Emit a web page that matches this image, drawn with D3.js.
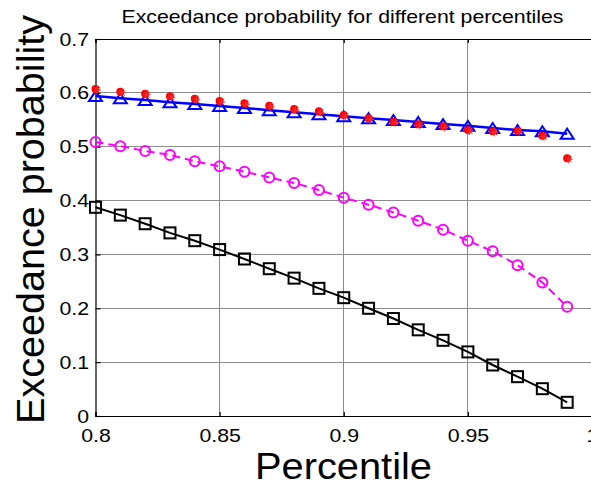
<!DOCTYPE html>
<html>
<head>
<meta charset="utf-8">
<script src="https://cdn.jsdelivr.net/npm/d3@7"></script>
<style>
html,body{margin:0;padding:0;background:#fff;overflow:hidden;}
svg{display:block;}
text{font-family:"Liberation Sans",Arial,Helvetica,sans-serif;fill:#000;}
</style>
</head>
<body>
<svg id="chart" width="591" height="486"></svg>
<script>
// ---- data ----
const percentiles = [0.80,0.81,0.82,0.83,0.84,0.85,0.86,0.87,0.88,0.89,0.90,0.91,0.92,0.93,0.94,0.95,0.96,0.97,0.98,0.99];
const seriesRed = [0.607,0.602,0.5984,0.5936,0.589,0.5848,0.5805,0.576,0.570,0.5657,0.5589,0.5527,0.5465,0.5416,0.5378,0.531,0.5286,0.5297,0.5204,0.4784];
const seriesBlue = [0.5940,0.5899,0.5867,0.5824,0.5793,0.5756,0.572,0.5676,0.5639,0.5603,0.5565,0.5530,0.5496,0.546,0.542,0.539,0.5347,0.531,0.5286,0.5242];
const seriesMagenta = [0.5087,0.501,0.492,0.4846,0.473,0.4636,0.4536,0.443,0.4326,0.4196,0.4054,0.3924,0.378,0.3627,0.346,0.3255,0.306,0.280,0.248,0.203];
const seriesBlack = [0.3875,0.373,0.357,0.340,0.3255,0.309,0.2915,0.2735,0.256,0.237,0.2197,0.200,0.181,0.160,0.1405,0.119,0.0947,0.073,0.0507,0.0254];
const xTicks = [0.8,0.85,0.9,0.95,1];
const yTicks = [0,0.1,0.2,0.3,0.4,0.5,0.6,0.7];
const titleText = "Exceedance probability for different percentiles";
const xLabelText = "Percentile";
const yLabelText = "Exceedance probability";

// ---- layout ----
const svg = d3.select("#chart");
const L = 95.5, R = 592, T = 39, B = 416;
const x = d3.scaleLinear().domain([0.8,1]).range([L,R]);
const y = d3.scaleLinear().domain([0,0.7]).range([B,T]);
const STRETCH = 1.12;

// grid
const grid = svg.append("g").attr("stroke","#8c8c8c").attr("stroke-width",1).attr("shape-rendering","crispEdges");
grid.selectAll(".gx").data(xTicks.slice(1)).join("line")
  .attr("x1",d=>x(d)).attr("x2",d=>x(d)).attr("y1",T).attr("y2",B);
grid.selectAll(".gy").data(yTicks.slice(1)).join("line")
  .attr("x1",L).attr("x2",R).attr("y1",d=>y(d)).attr("y2",d=>y(d));

// axes
const fmt = d => String(+d.toFixed(2));
const xAxis = svg.append("g").attr("transform",`translate(0,${B})`)
  .call(d3.axisBottom(x).tickValues(xTicks).tickFormat(fmt).tickSize(-4).tickPadding(13));
const xAxisTop = svg.append("g").attr("transform",`translate(0,${T})`)
  .call(d3.axisTop(x).tickValues(xTicks).tickFormat("").tickSize(-4));
const yAxis = svg.append("g").attr("transform",`translate(${L},0)`)
  .call(d3.axisLeft(y).tickValues(yTicks).tickFormat(fmt).tickSize(-5).tickPadding(6.5));
[xAxis,xAxisTop,yAxis].forEach(g=>{
  g.select(".domain").attr("stroke","#000").attr("stroke-width",1.2);
  g.selectAll(".tick line").attr("stroke","#000").attr("stroke-width",1.2);
  g.selectAll("text").attr("font-size",19).attr("font-family",null);
});

// lines & markers
function linePath(vals){
  return d3.line().x((d,i)=>x(percentiles[i])).y(d=>y(d))(vals);
}
// black squares
svg.append("path").attr("d",linePath(seriesBlack)).attr("fill","none").attr("stroke","#000").attr("stroke-width",2);
svg.append("g").selectAll("rect").data(seriesBlack).join("rect")
  .attr("x",(d,i)=>x(percentiles[i])-5.5).attr("y",d=>y(d)-5.5)
  .attr("width",11).attr("height",11).attr("fill","none").attr("stroke","#000").attr("stroke-width",2);
// magenta circles dashed
svg.append("path").attr("d",linePath(seriesMagenta)).attr("fill","none").attr("stroke","#ff00ff").attr("stroke-width",2).attr("stroke-dasharray","8,5");
svg.append("g").selectAll("circle").data(seriesMagenta).join("circle")
  .attr("cx",(d,i)=>x(percentiles[i])).attr("cy",d=>y(d)).attr("r",5)
  .attr("fill","none").attr("stroke","#ff00ff").attr("stroke-width",2);
// blue triangles
svg.append("path").attr("d",linePath(seriesBlue)).attr("fill","none").attr("stroke","#0000ff").attr("stroke-width",2.5);
svg.append("g").selectAll("path").data(seriesBlue).join("path")
  .attr("d",(d,i)=>{const cx=x(percentiles[i]), cy=y(d); return `M${cx},${cy-5}L${cx+6.5},${cy+5}L${cx-6.5},${cy+5}Z`;})
  .attr("fill","none").attr("stroke","#0000ff").attr("stroke-width",2);
// red dots
const red = svg.append("g");
red.selectAll("circle").data(seriesRed).join("circle")
  .attr("cx",(d,i)=>x(percentiles[i])).attr("cy",d=>y(d)).attr("r",4)
  .attr("fill","#ff0000");
red.selectAll("path").data(seriesRed).join("path")
  .attr("d",(d,i)=>{const cx=x(percentiles[i])+1.5, cy=y(d)+1; return `M${cx-4},${cy}L${cx+4},${cy}M${cx},${cy-4}L${cx},${cy+4}M${cx-3},${cy-3}L${cx+3},${cy+3}M${cx-3},${cy+3}L${cx+3},${cy-3}`;})
  .attr("stroke","#ff3030").attr("stroke-width",1).attr("fill","none");

// titles
svg.append("text").attr("x",342.5).attr("y",22.7).attr("text-anchor","middle")
  .attr("font-size",19).attr("class","stretch").text(titleText);
svg.append("text").attr("x",343.5).attr("y",479).attr("text-anchor","middle")
  .attr("font-size",36).attr("textLength",177).attr("lengthAdjust","spacingAndGlyphs").text(xLabelText);
svg.append("text").attr("transform","translate(43.5,219.5) rotate(-90)").attr("text-anchor","middle")
  .attr("font-size",39).attr("textLength",409).attr("lengthAdjust","spacingAndGlyphs").text(yLabelText);

// horizontal stretch of small texts
svg.selectAll(".tick text, text.stretch").each(function(){
  const w = this.getComputedTextLength();
  if (w>0) d3.select(this).attr("textLength",w*STRETCH).attr("lengthAdjust","spacingAndGlyphs");
});
</script>
</body>
</html>
